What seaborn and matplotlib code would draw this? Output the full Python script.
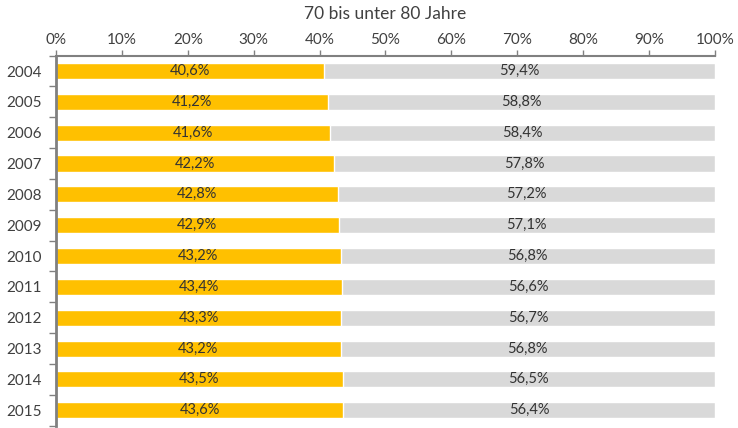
import numpy as np
import pandas as pd
import matplotlib
matplotlib.use("Agg")
import matplotlib.pyplot as plt
from matplotlib.ticker import FixedLocator, PercentFormatter
import seaborn as sns

years = ["2004", "2005", "2006", "2007", "2008", "2009",
         "2010", "2011", "2012", "2013", "2014", "2015"]
anteil_a = [40.6, 41.2, 41.6, 42.2, 42.8, 42.9, 43.2, 43.4, 43.3, 43.2, 43.5, 43.6]
anteil_b = [59.4, 58.8, 58.4, 57.8, 57.2, 57.1, 56.8, 56.6, 56.7, 56.8, 56.5, 56.4]
title = "70 bis unter 80 Jahre"

YELLOW = "#FFC000"
GREY = "#D9D9D9"
AXIS = "#808080"
TEXT = "#404040"

sns.set_theme(style="white")
plt.rcParams["font.family"] = ["Lato", "DejaVu Sans"]

df = pd.DataFrame({"year": years, "a": anteil_a, "b": anteil_b})
df["total"] = df["a"] + df["b"]

fig = plt.figure(figsize=(7.38, 4.28), dpi=100)
ax = fig.add_axes([0.0759, 0.0056, 0.8929, 0.8645])

sns.barplot(data=df, y="year", x="total", color=GREY, orient="h",
            width=0.52, saturation=1, ax=ax)
sns.barplot(data=df, y="year", x="a", color=YELLOW, orient="h",
            width=0.52, saturation=1, ax=ax)

def fmt(v):
    return f"{v:.1f}".replace(".", ",") + "%"

for i, (a, b) in enumerate(zip(anteil_a, anteil_b)):
    ax.text(a / 2, i, fmt(a), ha="center", va="center", fontsize=10.5, color="#333333")
    ax.text(a + b / 2, i, fmt(b), ha="center", va="center", fontsize=10.5, color="#333333")

ax.set_xlim(0, 100)
ax.set_ylim(len(years) - 0.5, -0.5)
ax.set_xlabel("")
ax.set_ylabel("")
ax.set_title(title, fontsize=12.5, color=TEXT, pad=10)

ax.xaxis.tick_top()
ax.set_xticks(np.arange(0, 101, 10))
ax.xaxis.set_major_formatter(PercentFormatter(decimals=0))
ax.tick_params(axis="x", which="major", length=4, width=1, color=AXIS,
               labelsize=11, labelcolor=TEXT, pad=2, direction="out")

ax.yaxis.set_minor_locator(FixedLocator(np.arange(-0.5, len(years), 1)))
ax.tick_params(axis="y", which="major", length=0, labelsize=11, labelcolor=TEXT, pad=10)
ax.tick_params(axis="y", which="minor", length=5, width=1, color=AXIS, left=True, direction="out")

for side in ["right", "bottom"]:
    ax.spines[side].set_visible(False)
ax.spines["top"].set_color(AXIS)
ax.spines["top"].set_linewidth(1.5)
ax.spines["left"].set_color(AXIS)
ax.spines["left"].set_linewidth(2)

fig.savefig("out.png", dpi=100)
